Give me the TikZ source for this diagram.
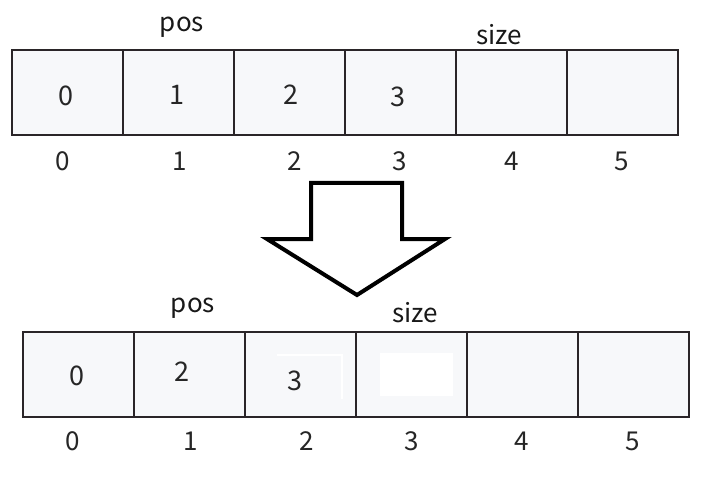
\documentclass[tikz,border=0pt]{standalone}
\usepackage{fontspec}
\setmainfont{Noto Sans CJK SC}
\definecolor{cellfill}{HTML}{F7F8FA}
\definecolor{cellline}{HTML}{2A2528}
\begin{document}
\begin{tikzpicture}[x=1pt,y=-1pt,
  cell/.style={draw=cellline,line width=1.8pt,fill=cellfill,minimum width=111pt,minimum height=85pt,inner sep=0pt,anchor=north west},
  val/.style={font=\fontsize{27}{27}\selectfont,text=black!85,inner sep=0pt},
  idx/.style={font=\fontsize{26}{26}\selectfont,text=black!85,inner sep=0pt},
  lbl/.style={font=\fontsize{26}{26}\selectfont,text=black!90,inner sep=0pt}]
\useasboundingbox (0,0) rectangle (711,478);
\fill[white] (0,0) rectangle (711,478);
% top array
\foreach \i in {0,...,5}{
  \node[cell] (t\i) at (11+111*\i,49) {};
}
\node[val] (tv0) at (66,96) {0};
\node[val] (tv1) at (177,95) {1};
\node[val] (tv2) at (291,95) {2};
\node[val] (tv3) at (398,97) {3};
\node[idx] (ti0) at (63,161) {0};
\node[idx] (ti1) at (180,161) {1};
\node[idx] (ti2) at (295,161) {2};
\node[idx] (ti3) at (400,161) {3};
\node[idx] (ti4) at (512,161) {4};
\node[idx] (ti5) at (622,161) {5};
\node[lbl] (tpos) at (182,27) {pos};
\node[lbl] (tsize) at (499,35) {size};
% arrow
\draw[line width=4pt,line join=miter,fill=white] (311,183) -- (402,183) -- (402,239) -- (445,239) -- (357,295) -- (267,239) -- (311,239) -- cycle;
% bottom array
\foreach \i in {0,...,5}{
  \node[cell] (b\i) at (22+111*\i,331) {};
}
\draw[white,line width=1.2pt] (277,355) -- (342,355) -- (342,399);
\fill[white] (380,353) rectangle (453,396);
\node[val] (bv0) at (77,376) {0};
\node[val] (bv1) at (182,372) {2};
\node[val] (bv2) at (295,381) {3};
\node[idx] (bi0) at (73,441) {0};
\node[idx] (bi1) at (191,441) {1};
\node[idx] (bi2) at (307,441) {2};
\node[idx] (bi3) at (412,441) {3};
\node[idx] (bi4) at (522,441) {4};
\node[idx] (bi5) at (633,441) {5};
\node[lbl] (bpos) at (193,308) {pos};
\node[lbl] (bsize) at (415,313) {size};
\end{tikzpicture}
\end{document}
